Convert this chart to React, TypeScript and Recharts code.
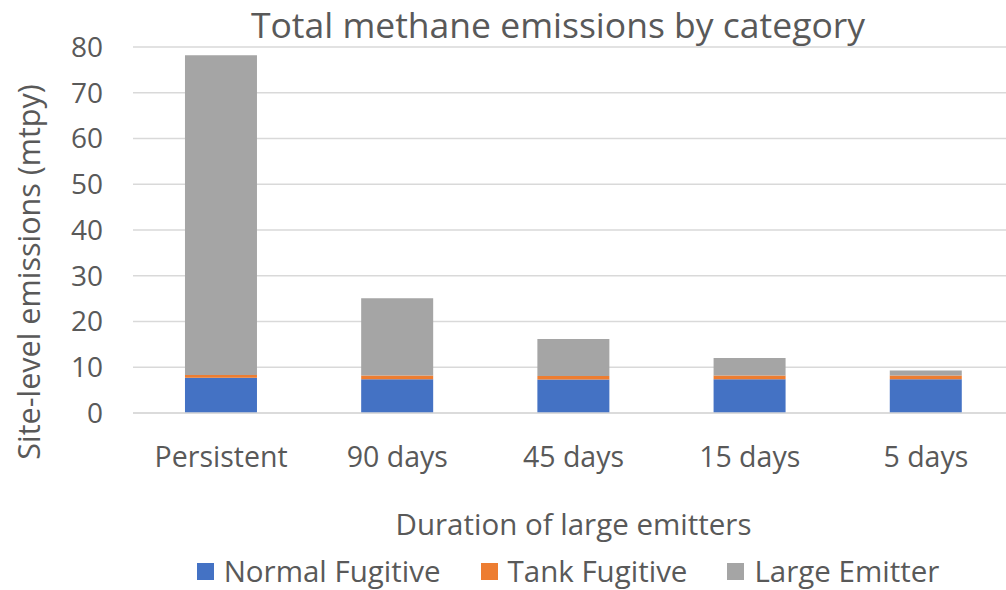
import React from 'react';
import { BarChart, Bar, XAxis, YAxis, CartesianGrid, Legend } from 'recharts';

const categories = ['Persistent', '90 days', '45 days', '15 days', '5 days'];
const normalFugitive = [7.7, 7.4, 7.3, 7.4, 7.4];
const tankFugitive = [0.6, 0.8, 0.8, 0.8, 0.8];
const largeEmitter = [69.9, 16.9, 8.1, 3.8, 1.1];
const yTicks = [0, 10, 20, 30, 40, 50, 60, 70, 80];

const series = [
  { key: 'normal', name: 'Normal Fugitive', color: '#4472C4' },
  { key: 'tank', name: 'Tank Fugitive', color: '#ED7D31' },
  { key: 'large', name: 'Large Emitter', color: '#A5A5A5' },
];

const data = categories.map((name, i) => ({
  name,
  normal: normalFugitive[i],
  tank: tankFugitive[i],
  large: largeEmitter[i],
}));

const FONT = '"Open Sans", Lato, sans-serif';
const TEXT = '#595959';

function LegendRow() {
  return (
    <div style={{ display: 'flex', justifyContent: 'center', gap: 40, fontFamily: FONT, fontSize: 29.5, lineHeight: '34px', color: TEXT, paddingLeft: 130, paddingTop: 6 }}>
      {series.map((s) => (
        <div key={s.key} style={{ display: 'flex', alignItems: 'center' }}>
          <span style={{ width: 17, height: 17, background: s.color, display: 'inline-block', marginRight: 10 }} />
          <span>{s.name}</span>
        </div>
      ))}
    </div>
  );
}

export default function App() {
  return (
    <div style={{ position: 'absolute', left: 0, top: 0, width: 1006, height: 590, overflow: 'hidden', background: '#fff' }}>
      <div style={{ position: 'absolute', left: 0, width: 1116, top: 1, textAlign: 'center', fontFamily: FONT, fontSize: 35.5, color: TEXT, lineHeight: '46px' }}>
        Total methane emissions by category
      </div>
      <BarChart
        width={1014}
        height={590}
        data={data}
        margin={{ top: 47, right: 0, left: 0, bottom: 0 }}
        barCategoryGap="29.5%"
      >
        <CartesianGrid vertical={false} stroke="#d9d9d9" strokeWidth={1.5} />
        <XAxis
          dataKey="name"
          height={135}
          axisLine={{ stroke: '#d9d9d9', strokeWidth: 1.5 }}
          tickLine={false}
          tickSize={0}
          tickMargin={34}
          tick={{ fill: TEXT, fontSize: 28.5, fontFamily: FONT }}
          label={{ value: 'Duration of large emitters', position: 'insideBottom', offset: 13, fill: TEXT, fontSize: 29.5, fontFamily: FONT }}
        />
        <YAxis
          width={133}
          domain={[0, 80]}
          ticks={yTicks}
          axisLine={false}
          tickLine={false}
          tickSize={0}
          tickMargin={30}
          tick={{ fill: TEXT, fontSize: 28, fontFamily: FONT }}
          label={({ viewBox }: any) => (
            <text
              x={viewBox.x + 28}
              y={viewBox.y + viewBox.height / 2 + 42}
              transform={`rotate(-90 ${viewBox.x + 28} ${viewBox.y + viewBox.height / 2 + 42})`}
              textAnchor="middle"
              dominantBaseline="central"
              fill={TEXT}
              fontSize={30.5}
              fontFamily={FONT}
            >
              Site-level emissions (mtpy)
            </text>
          )}
        />
        <Legend verticalAlign="bottom" height={42} content={() => <LegendRow />} wrapperStyle={{ width: 1006, left: 0 }} />
        {series.map((s) => (
          <Bar key={s.key} dataKey={s.key} name={s.name} stackId="a" fill={s.color} isAnimationActive={false} />
        ))}
      </BarChart>
    </div>
  );
}
